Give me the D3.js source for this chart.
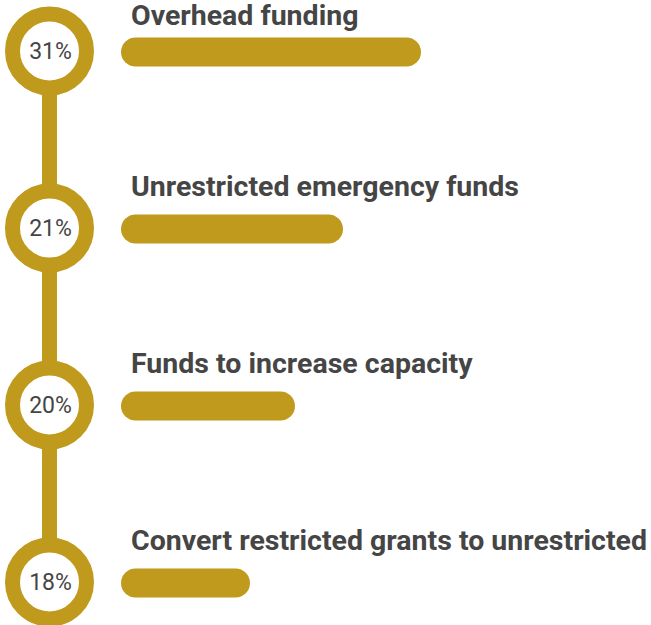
<!DOCTYPE html>
<html>
<head>
<meta charset="utf-8">
<script src="https://cdn.jsdelivr.net/npm/d3@7"></script>
<style>
  html, body { margin: 0; padding: 0; background: #ffffff; }
  svg { display: block; }
</style>
</head>
<body>
<svg id="chart" width="651" height="625"></svg>
<script>
// Data
const categories = [
  "Overhead funding",
  "Unrestricted emergency funds",
  "Funds to increase capacity",
  "Convert restricted grants to unrestricted"
];
const percentLabels = ["31%", "21%", "20%", "18%"];
// relative bar lengths as drawn (longest = 100)
const barScores = [100, 74, 58, 43];

const gold = "#C09A1D";
const textColor = "#454545";

const svg = d3.select("#chart");

const y = d3.scaleLinear().domain([0, categories.length - 1]).range([51, 582]);
const x = d3.scaleLinear().domain([0, 100]).range([0, 300]);

const cx = 49.5;
const ringR = 37;
const ringW = 15;
const barX = 121;
const barH = 29;

// connecting line
svg.append("line")
  .attr("x1", cx).attr("x2", cx)
  .attr("y1", y(0)).attr("y2", y(categories.length - 1))
  .attr("stroke", gold)
  .attr("stroke-width", 15);

const rows = svg.selectAll("g.row")
  .data(categories.map((c, i) => ({ c, i, p: percentLabels[i], v: barScores[i] })))
  .join("g")
  .attr("class", "row");

rows.append("circle")
  .attr("cx", cx)
  .attr("cy", d => y(d.i))
  .attr("r", ringR)
  .attr("fill", "#ffffff")
  .attr("stroke", gold)
  .attr("stroke-width", ringW);

rows.append("text")
  .attr("x", cx + 1)
  .attr("y", d => y(d.i))
  .attr("dy", "0.36em")
  .attr("text-anchor", "middle")
  .attr("font-family", "Roboto, sans-serif")
  .attr("font-size", 23)
  .attr("fill", textColor)
  .text(d => d.p);

rows.append("rect")
  .attr("x", barX)
  .attr("y", d => y(d.i) + 1 - barH / 2)
  .attr("width", d => x(d.v))
  .attr("height", barH)
  .attr("rx", barH / 2)
  .attr("fill", gold);

rows.append("text")
  .attr("x", 131)
  .attr("y", d => Math.max(y(d.i) - 32, 25))
  .attr("font-family", "Roboto, sans-serif")
  .attr("font-weight", 700)
  .attr("font-size", 28.5)
  .attr("fill", textColor)
  .text(d => d.c);
</script>
</body>
</html>
